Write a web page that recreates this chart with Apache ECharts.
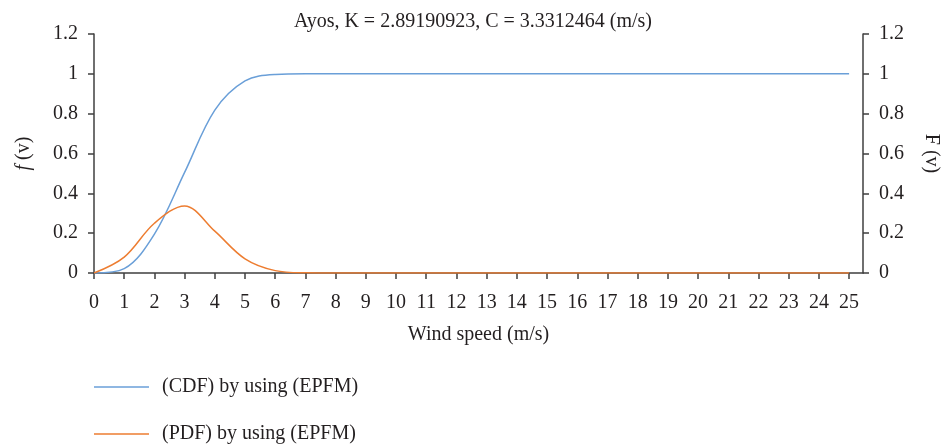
<!DOCTYPE html>
<html>
<head>
<meta charset="utf-8">
<script src="https://cdn.jsdelivr.net/npm/echarts@6/dist/echarts.min.js"></script>
<style>
  html, body { margin: 0; padding: 0; background: #fff; }
  #chart { width: 946px; height: 445px; }
</style>
</head>
<body>
<div id="chart"></div>
<script>
// wind speed (m/s) at integer steps
const windSpeed = [0, 1, 2, 3, 4, 5, 6, 7, 8, 9, 10, 11, 12, 13, 14, 15, 16, 17, 18, 19, 20, 21, 22, 23, 24, 25]
const cdfValues = [0, 0.022, 0.195, 0.505, 0.818, 0.965, 0.997, 1, 1, 1, 1, 1, 1, 1, 1, 1, 1, 1, 1, 1, 1, 1, 1, 1, 1, 1]
const pdfValues = [0, 0.08, 0.25, 0.337, 0.21, 0.071, 0.012, 0.001, 0, 0, 0, 0, 0, 0, 0, 0, 0, 0, 0, 0, 0, 0, 0, 0, 0, 0]
const legendNames = ['(CDF) by using (EPFM)', '(PDF) by using (EPFM)']

const font = '"Liberation Serif", "DejaVu Serif", serif'
const axisColor = '#3f3f3f'
const textColor = '#231f20'
const fontSize = 20

const chart = echarts.init(document.getElementById('chart'))

function pairs(ys) {
    return windSpeed.map((x, i) => [x, ys[i]])
}

function yAxisBase() {
    return {
        type: 'value',
        min: 0,
        max: 1.2,
        interval: 0.2,
        splitLine: { show: false },
        axisLine: { show: true, lineStyle: { color: axisColor, width: 1.5 } },
        axisTick: { show: true, length: 6, lineStyle: { color: axisColor, width: 1.5 } },
        axisLabel: {
            color: textColor, fontFamily: font, fontSize: fontSize, margin: 16,
            formatter: v => String(+v.toFixed(1))
        },
        nameLocation: 'middle',
        nameTextStyle: { color: textColor, fontFamily: font, fontSize: fontSize }
    }
}

const leftAxis = yAxisBase()
leftAxis.position = 'left'
leftAxis.name = '{i|f} (v)'
leftAxis.nameRotate = 90
leftAxis.nameGap = 60
leftAxis.nameTextStyle.rich = {
    i: { fontStyle: 'italic', fontFamily: font, fontSize: fontSize, color: textColor }
}

const rightAxis = yAxisBase()
rightAxis.position = 'right'
rightAxis.name = 'F (v)'
rightAxis.nameRotate = -90
rightAxis.nameGap = 58

// one legend per series so they stack the way the original does
function legendAt(name, top) {
    return {
        orient: 'vertical',
        left: 94,
        top: top,
        padding: 0,
        icon: 'rect',
        itemWidth: 55,
        itemHeight: 1.5,
        textStyle: { color: textColor, fontFamily: font, fontSize: fontSize, padding: [0, 0, 0, 8] },
        data: [name]
    }
}

const option = {
    animation: false,
    backgroundColor: '#fff',
    title: {
        text: 'Ayos, K = 2.89190923, C = 3.3312464 (m/s)',
        left: 'center',
        top: 7,
        textStyle: { color: textColor, fontFamily: font, fontSize: fontSize, fontWeight: 'normal' }
    },
    grid: { left: 94, right: 83, top: 34, bottom: 172, outerBoundsMode: 'none' },
    xAxis: {
        type: 'value',
        min: 0,
        max: 25.46,
        name: 'Wind speed (m/s)',
        nameLocation: 'middle',
        nameGap: 52,
        nameTextStyle: { color: textColor, fontFamily: font, fontSize: fontSize },
        splitLine: { show: false },
        axisLine: { show: true, onZero: false, lineStyle: { color: axisColor, width: 1.5 } },
        axisTick: { show: true, length: 6, customValues: windSpeed, lineStyle: { color: axisColor, width: 1.5 } },
        axisLabel: {
            customValues: windSpeed,
            color: textColor, fontFamily: font, fontSize: fontSize, margin: 20
        }
    },
    yAxis: [leftAxis, rightAxis],
    legend: [legendAt(legendNames[0], 377), legendAt(legendNames[1], 424)],
    series: [
        {
            name: legendNames[0],
            type: 'line',
            yAxisIndex: 1,
            data: pairs(cdfValues),
            smooth: 0.35,
            symbol: 'none',
            lineStyle: { color: '#6a9fd8', width: 1.5 },
            itemStyle: { color: '#6a9fd8' }
        },
        {
            name: legendNames[1],
            type: 'line',
            yAxisIndex: 0,
            data: pairs(pdfValues),
            smooth: 0.35,
            symbol: 'none',
            lineStyle: { color: '#ed7d31', width: 1.5 },
            itemStyle: { color: '#ed7d31' }
        }
    ]
}

chart.setOption(option)
</script>
</body>
</html>
